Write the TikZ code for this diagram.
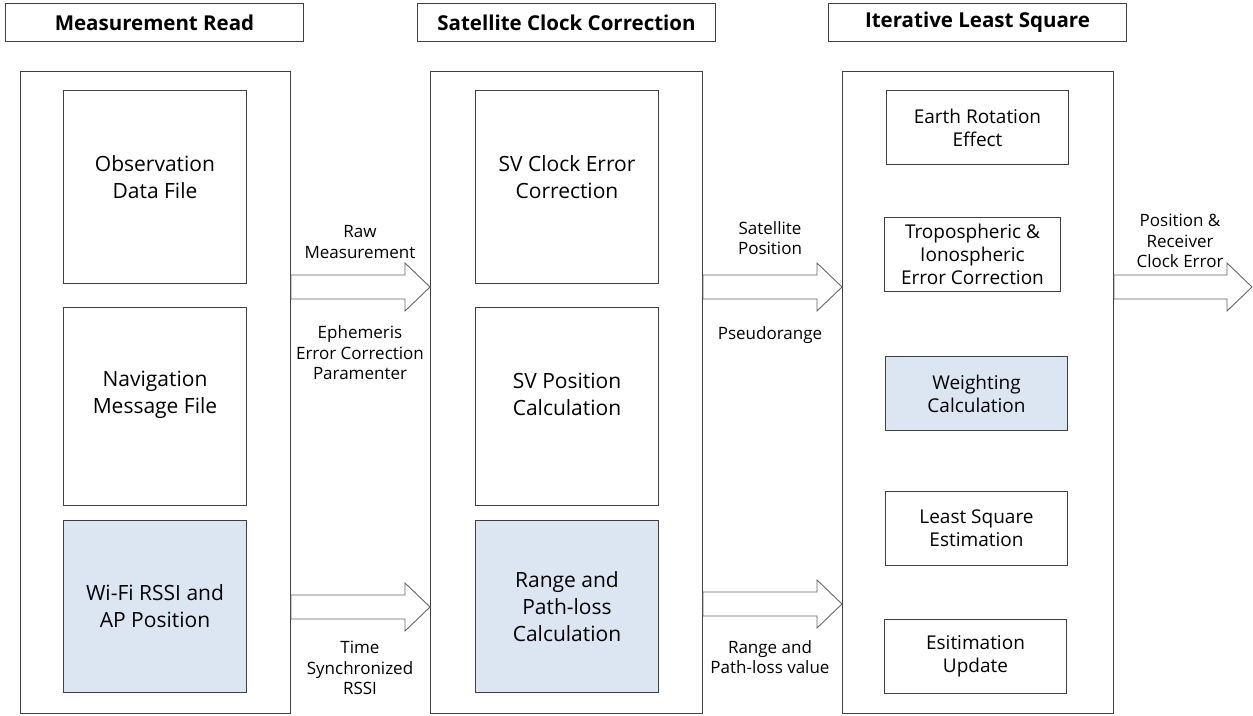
\documentclass[tikz,border=0pt]{standalone}
\usepackage{fontspec}
\setmainfont{Open Sans}
\usetikzlibrary{calc}
\definecolor{boxblue}{HTML}{DCE6F2}
\definecolor{edge}{HTML}{404040}
\newcommand\blockarrow[3]{%
  \draw[barrow] (#1.east |- 0,#3-12) -- ($(#2 |- 0,#3-12)+(-25,0)$) -- ($(#2 |- 0,#3-24)+(-25,0)$)
    -- (#2 |- 0,#3) -- ($(#2 |- 0,#3+24)+(-25,0)$) -- ($(#2 |- 0,#3+12)+(-25,0)$)
    -- (#1.east |- 0,#3+12) -- cycle;}
\begin{document}
\begin{tikzpicture}[x=1pt,y=-1pt,line width=1pt,
  hdr/.style={draw=edge, anchor=north west, minimum width=298, minimum height=38, inner sep=0,
    font=\bfseries\fontsize{20.5}{24}\selectfont},
  col/.style={draw=edge, anchor=north west, minimum height=642, inner sep=0},
  box/.style={draw=edge, fill=white, anchor=north west, minimum width=183, inner sep=0},
  btxt/.style={align=center, inner sep=0, font=\fontsize{21}{27}\selectfont},
  bluebox/.style={box, fill=boxblue},
  rbox/.style={box, align=center, minimum width=182, minimum height=74, font=\fontsize{19}{23}\selectfont},
  lbl/.style={align=center, inner sep=0, font=\fontsize{17}{20.5}\selectfont},
  barrow/.style={draw=black!60, fill=white, line width=0.9pt, line join=miter}]
\useasboundingbox (0,0) rectangle (1253,715);
% headers
\node[hdr] (h1) at (5,3) {Measurement Read};
\node[hdr] (h2) at (417,3) {Satellite Clock Correction};
\node[hdr] (h3) at (828,3) {Iterative Least Square};
% columns
\node[col, minimum width=270] (c1) at (20,71) {};
\node[col, minimum width=272] (c2) at (430,71) {};
\node[col, minimum width=271] (c3) at (842,71) {};
% left column
\node[box, minimum height=193] (obs) at (63,90) {};
\node[btxt] (obs-t) at ($(obs.center)+(0,-10)$) {Observation\\Data File};
\node[box, minimum height=198] (nav) at (63,307) {};
\node[btxt] (nav-t) at ($(nav.center)+(0,-12)$) {Navigation\\Message File};
\node[bluebox, minimum height=172] (wifi) at (63,520) {};
\node[btxt] (wifi-t) at (wifi.center) {Wi-Fi RSSI and\\AP Position};
% middle column
\node[box, minimum height=193] (svc) at (475,90) {};
\node[btxt] (svc-t) at ($(svc.center)+(0,-10)$) {SV Clock Error\\Correction};
\node[box, minimum height=198] (svp) at (475,307) {};
\node[btxt] (svp-t) at ($(svp.center)+(0,-12)$) {SV Position\\Calculation};
\node[bluebox, minimum height=172] (rpl) at (475,520) {};
\node[btxt] (rpl-t) at (rpl.center) {Range and\\Path-loss\\Calculation};
% right column
\node[rbox] (ear) at (886,90) {Earth Rotation\\Effect};
\node[rbox, minimum width=176] (tro) at (884,217) {Tropospheric \&\\Ionospheric\\Error Correction};
\node[rbox, fill=boxblue] (wgt) at (885,356) {Weighting\\Calculation};
\node[rbox] (lse) at (885,491) {Least Square\\Estimation};
\node[rbox] (upd) at (884,619) {Esitimation\\Update};
% arrows
\coordinate (outtip) at (1252,287);
\blockarrow{c1}{c2.west}{287}
\blockarrow{c2}{c3.west}{287}
\blockarrow{c1}{c2.west}{607}
\blockarrow{c2}{c3.west}{604}
\blockarrow{c3}{outtip}{287}
% labels
\node[lbl] (l1) at (360,242) {Raw\\Measurement};
\node[lbl] (l2) at (360,353) {Ephemeris\\Error Correction\\Paramenter};
\node[lbl] (l3) at (360,668) {Time\\Synchronized\\RSSI};
\node[lbl] (l4) at (770,238) {Satellite\\Position};
\node[lbl] (l5) at (770,335) {Pseudorange};
\node[lbl] (l6) at (770,657) {Range and\\Path-loss value};
\node[lbl] (l7) at (1180,241) {Position \&\\Receiver\\Clock Error};
\end{tikzpicture}
\end{document}
